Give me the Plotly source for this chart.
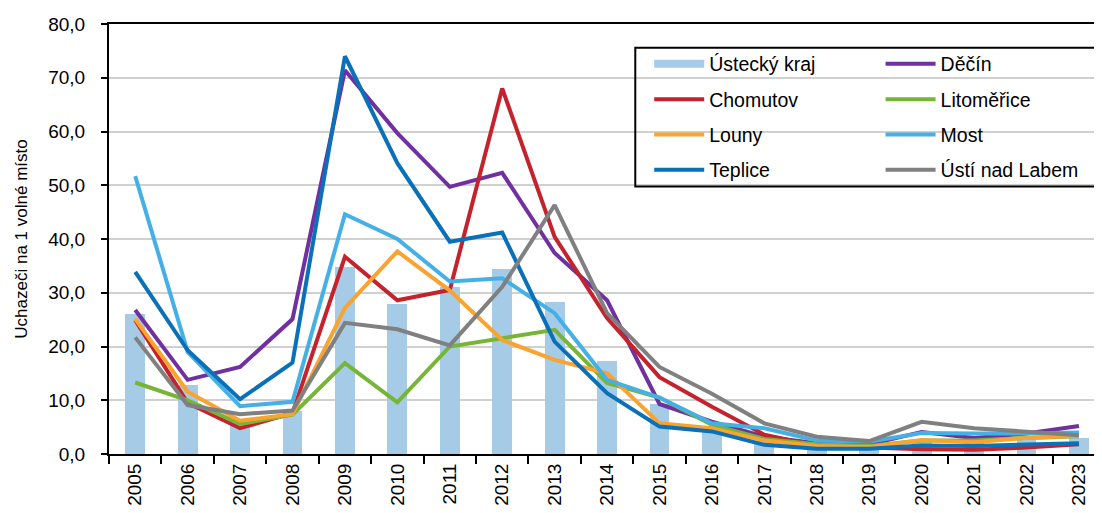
import plotly.graph_objects as go

years = [str(y) for y in range(2005, 2024)]

ustecky_kraj = [26.0, 12.8, 6.5, 8.0, 34.8, 27.9, 31.0, 34.4, 28.2, 17.3, 9.3, 5.0, 2.5, 1.5, 1.3, 2.5, 2.5, 2.6, 3.0]
decin = [26.8, 13.8, 16.2, 25.1, 71.4, 59.7, 49.7, 52.3, 37.4, 28.6, 9.3, 6.0, 3.2, 2.0, 1.8, 4.1, 3.0, 3.8, 5.2]
chomutov = [24.9, 9.5, 4.8, 7.6, 36.7, 28.6, 30.5, 68.0, 40.4, 25.3, 14.3, 8.8, 3.6, 1.5, 1.2, 0.9, 0.8, 1.2, 1.8]
litomerice = [13.3, 10.0, 5.6, 7.3, 16.9, 9.6, 20.0, 21.6, 23.1, 13.2, 10.5, 5.4, 2.8, 1.8, 1.5, 2.5, 2.5, 3.0, 3.3]
louny = [25.1, 11.6, 6.2, 7.4, 27.2, 37.7, 30.4, 21.2, 17.5, 15.0, 5.7, 4.8, 2.5, 1.5, 1.3, 2.6, 2.2, 3.0, 3.4]
most = [51.7, 19.0, 8.9, 9.7, 44.6, 40.0, 32.1, 32.7, 26.2, 13.8, 10.5, 5.7, 4.8, 2.5, 2.3, 3.9, 3.8, 3.8, 4.0]
teplice = [33.9, 19.3, 10.2, 17.0, 74.0, 54.1, 39.5, 41.2, 20.9, 11.3, 5.1, 4.2, 1.7, 1.0, 1.0, 1.6, 1.5, 1.8, 2.0]
usti_nad_labem = [21.7, 9.1, 7.4, 8.1, 24.4, 23.2, 20.2, 31.1, 46.3, 26.2, 16.2, 11.2, 5.7, 3.2, 2.4, 6.0, 4.8, 4.2, 3.5]

y_ticks = [0, 10, 20, 30, 40, 50, 60, 70, 80]

FONT = "Liberation Sans, Arial, sans-serif"
BAR_COLOR = "#A5CBE6"

lines = [
    ("Děčín", decin, "#7030A0", "legend2"),
    ("Chomutov", chomutov, "#C4222C", "legend"),
    ("Litoměřice", litomerice, "#76B536", "legend2"),
    ("Louny", louny, "#F9A330", "legend"),
    ("Most", most, "#45B0E5", "legend2"),
    ("Teplice", teplice, "#0A70B8", "legend"),
    ("Ústí nad Labem", usti_nad_labem, "#808080", "legend2"),
]

fig = go.Figure()

fig.add_trace(go.Bar(
    x=years, y=ustecky_kraj, name="Ústecký kraj",
    marker=dict(color=BAR_COLOR, line=dict(width=0)),
    width=0.38, showlegend=False,
))
# legend entry for the bar series (wide flat symbol like the original)
fig.add_trace(go.Scatter(
    x=[None], y=[None], mode="lines", name="Ústecký kraj",
    line=dict(color=BAR_COLOR, width=8), legend="legend", legendgroup="g0",
))

for i, (name, vals, color, leg) in enumerate(lines, start=1):
    fig.add_trace(go.Scatter(
        x=years, y=vals, name=name, mode="lines",
        line=dict(color=color, width=4),
        legend=leg, legendgroup=f"g{i}",
    ))

legend_common = dict(
    bgcolor="rgba(0,0,0,0)", borderwidth=0,
    font=dict(family=FONT, size=19.5, color="#000000"),
    tracegroupgap=7, itemwidth=50,
    xanchor="left", yanchor="top", orientation="v",
)

fig.update_layout(
    width=1094, height=505,
    margin=dict(l=100.5, r=0, t=16, b=59),
    plot_bgcolor="white", paper_bgcolor="white",
    separators=", ",
    bargap=0,
    font=dict(family=FONT, size=19, color="#000000"),
    xaxis=dict(
        type="category", range=[-0.5, 18.44], automargin=False,
        showgrid=False, showline=True, linecolor="#000000", linewidth=2,
        mirror=True,
        ticks="outside", tickson="boundaries", ticklen=8, tickcolor="#000000", tickwidth=2,
        tickangle=-90, tickfont=dict(family=FONT, size=19, color="#000000"),
    ),
    yaxis=dict(
        range=[0, 80], tickvals=y_ticks, tickformat=".1f", automargin=False,
        showgrid=True, gridcolor="#D0D0D0", gridwidth=2,
        showline=True, linecolor="#000000", linewidth=2,
        ticks="outside", ticklen=6, tickcolor="#000000", tickwidth=2,
        ticklabelstandoff=12,
        tickfont=dict(family=FONT, size=19, color="#000000"),
        zeroline=False,
        title=dict(text="Uchazeči na 1 volné místo", standoff=16,
                   font=dict(family=FONT, size=17, color="#000000")),
    ),
    legend=dict(x=0.544, y=0.952, **legend_common),
    legend2=dict(x=0.777, y=0.952, **legend_common),
    shapes=[dict(
        type="rect", xref="paper", yref="paper",
        x0=0.530, x1=0.993, y0=0.622, y1=0.945,
        line=dict(color="#000000", width=2), fillcolor="rgba(0,0,0,0)", layer="above",
    )],
)

fig.write_html("out.html")
